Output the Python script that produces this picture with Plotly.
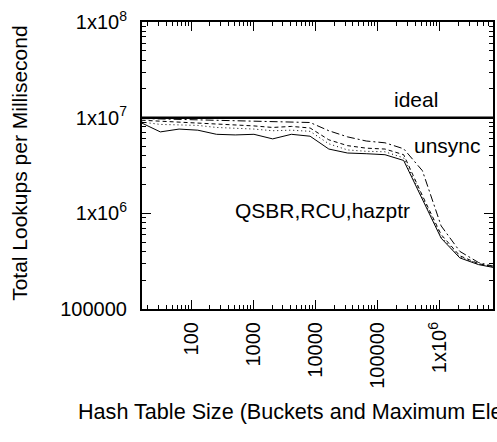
import plotly.graph_objects as go

# ---- data ----
table_sizes = [16, 32, 64, 128, 256, 512, 1024, 2048, 4096, 8192, 16384, 32768,
               65536, 131072, 262144, 524288, 1048576, 2097152, 4194304, 8388608]

ideal = [1e7] * len(table_sizes)
unsync = [9.8e6, 9.7e6, 9.6e6, 9.5e6, 9.4e6, 9.27e6, 9.1e6, 9.05e6, 8.95e6, 8.9e6,
          7.3e6, 6.3e6, 5.7e6, 5.46e6, 4.73e6, 2.79e6, 7.4e5, 4.0e5, 3.06e5, 2.74e5]
qsbr = [9.4e6, 9.2e6, 9.0e6, 8.9e6, 8.6e6, 8.4e6, 8.2e6, 7.9e6, 8.1e6, 7.8e6,
        5.87e6, 5.1e6, 4.8e6, 4.7e6, 4.1e6, 1.53e6, 6.0e5, 3.6e5, 2.98e5, 2.71e5]
rcu = [9.0e6, 8.5e6, 8.4e6, 8.3e6, 7.9e6, 7.8e6, 7.6e6, 7.3e6, 7.4e6, 7.2e6,
       5.33e6, 4.6e6, 4.45e6, 4.4e6, 3.8e6, 1.46e6, 5.7e5, 3.5e5, 2.95e5, 2.7e5]
hazptr = [8.8e6, 7.1e6, 7.6e6, 7.4e6, 6.7e6, 6.6e6, 6.7e6, 6.0e6, 6.7e6, 6.4e6,
          4.7e6, 4.27e6, 4.2e6, 4.1e6, 3.57e6, 1.39e6, 5.5e5, 3.42e5, 2.91e5, 2.67e5]

x_tickvals = [100, 1000, 10000, 100000, 1000000]
x_ticktext = ["100", "1000", "10000", "100000", "1x10<sup>6</sup>"]
y_tickvals = [1e5, 1e6, 1e7, 1e8]
y_ticktext = ["100000", "1x10<sup>6</sup>", "1x10<sup>7</sup>", "1x10<sup>8</sup>"]

FONT = "Liberation Sans, Arial, Helvetica, sans-serif"

L, R, T, B = 142, 493.3, 22, 309.5

fig = go.Figure()
fig.add_trace(go.Scatter(x=table_sizes, y=ideal, mode="lines", name="ideal",
                         line=dict(color="black", width=2.5)))
fig.add_trace(go.Scatter(x=table_sizes, y=unsync, mode="lines", name="unsync",
                         line=dict(color="black", width=1, dash="8px,3px,2px,3px")))
fig.add_trace(go.Scatter(x=table_sizes, y=qsbr, mode="lines", name="QSBR",
                         line=dict(color="black", width=1, dash="4px,3px")))
fig.add_trace(go.Scatter(x=table_sizes, y=rcu, mode="lines", name="RCU",
                         line=dict(color="black", width=1, dash="1px,3px")))
fig.add_trace(go.Scatter(x=table_sizes, y=hazptr, mode="lines", name="hazptr",
                         line=dict(color="black", width=1)))

x_minor = [m * 10 ** d for d in range(1, 7) for m in range(2, 10)]
y_minor = [m * 10 ** d for d in range(5, 8) for m in range(2, 10)]

fig.update_xaxes(
    type="log", range=[1.21, 6.855], automargin=False,
    tickvals=x_tickvals, ticktext=x_ticktext, tickangle=-90,
    ticks="inside", ticklen=9, tickwidth=1, tickcolor="black",
    minor=dict(tickvals=x_minor, ticks="inside", ticklen=4, tickwidth=1, tickcolor="black"),
    showline=True, linewidth=2, linecolor="black", mirror="ticks",
    showgrid=False, zeroline=False, ticklabelstandoff=3,
    tickfont=dict(family=FONT, size=20, color="black"),
)
fig.update_yaxes(
    type="log", range=[5, 8], automargin=False,
    tickvals=y_tickvals, ticktext=y_ticktext,
    ticks="inside", ticklen=9, tickwidth=1, tickcolor="black",
    minor=dict(tickvals=y_minor, ticks="inside", ticklen=4, tickwidth=1, tickcolor="black"),
    showline=True, linewidth=2, linecolor="black", mirror="ticks",
    showgrid=False, zeroline=False, ticklabelstandoff=9,
    tickfont=dict(family=FONT, size=20, color="black"),
)

ann_font = dict(family=FONT, size=21, color="black")
fig.add_annotation(x=6.0, y=7.186, xref="x", yref="y", text="ideal", showarrow=False,
                   xanchor="right", yanchor="middle", font=ann_font)
fig.add_annotation(x=6.695, y=6.706, xref="x", yref="y", text="unsync", showarrow=False,
                   xanchor="right", yanchor="middle", font=ann_font)
fig.add_annotation(x=5.552, y=6.028, xref="x", yref="y", text="QSBR,RCU,hazptr", showarrow=False,
                   xanchor="right", yanchor="middle", font=ann_font)

# axis titles
fig.add_annotation(text="Total Lookups per Millisecond",
                   xref="paper", yref="paper",
                   x=(20 - L) / (R - L), y=(B - 164) / (B - T),
                   showarrow=False, textangle=-90, xanchor="center", yanchor="middle",
                   font=ann_font)
fig.add_annotation(text="Hash Table Size (Buckets and Maximum Elements)",
                   xref="paper", yref="paper", x=(76 - L) / (R - L),
                   y=(B - 412) / (B - T), xanchor="left", yanchor="middle",
                   showarrow=False, font=dict(family=FONT, size=21.6, color="black"))

fig.update_layout(
    width=497, height=442,
    margin=dict(l=L, r=497 - R, t=T, b=442 - B, pad=0, autoexpand=False),
    paper_bgcolor="white", plot_bgcolor="white",
    showlegend=False,
    font=dict(family=FONT, color="black"),
)

fig.write_html("out.html", config={"displayModeBar": False},
               post_script="document.body.style.margin='0px';document.body.style.overflow='hidden';")
